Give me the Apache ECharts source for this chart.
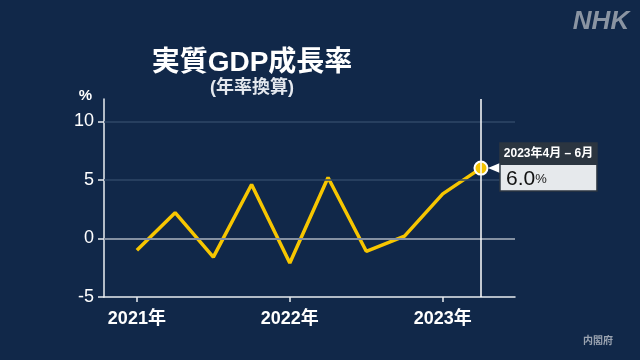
<!DOCTYPE html>
<html>
<head>
<meta charset="utf-8">
<script src="https://cdn.jsdelivr.net/npm/echarts@6/dist/echarts.min.js"></script>
<style>
html,body{margin:0;padding:0;background:#112849;}
#c{width:640px;height:360px;}
</style>
</head>
<body>
<div id="c"></div>
<script>
const quarters = ['2021Q1','2021Q2','2021Q3','2021Q4','2022Q1','2022Q2','2022Q3','2022Q4','2023Q1','2023Q2'];
const growth = [-1.0, 2.2, -1.6, 4.6, -2.1, 5.2, -1.1, 0.2, 3.8, 6.0];
const yearLabels = ['2021年','2022年','2023年'];
const yearStartIdx = [0, 4, 8];
const yTicks = [-5, 0, 5, 10];
const lastPeriodLabel = '2023年4月 – 6月';
const titleText = '実質GDP成長率';
const subtitleText = '(年率換算)';
const sourceText = '内閣府';

const FONT = '"Liberation Sans", "Noto Sans CJK JP", sans-serif';
const lastIdx = growth.length - 1;

const lineData = growth.map((v, i) => {
  if (i === lastIdx) {
    return {value: [i, v], symbol: 'circle', symbolSize: 13,
      itemStyle: {color: '#f5c400', borderColor: '#ffffff', borderWidth: 2}};
  }
  return {value: [i, v], symbol: 'none'};
});

const chart = echarts.init(document.getElementById('c'), null, {renderer: 'canvas'});
chart.setOption({
  backgroundColor: '#112849',
  animation: false,
  grid: {left: 104, right: 125, top: 99, bottom: 63},
  title: [
    {text: titleText, left: 247, top: 44, textAlign: 'center',
      textStyle: {color: '#ffffff', fontSize: 28, fontWeight: 'bold', fontFamily: FONT}},
    {text: subtitleText, left: 247, top: 74, textAlign: 'center',
      textStyle: {color: '#e4e8ee', fontSize: 18, fontWeight: 'bold', fontFamily: FONT}},
    {text: 'NHK', left: 596, top: 4, textAlign: 'center',
      textStyle: {color: '#8a94a2', fontSize: 26, fontWeight: 'bold', fontStyle: 'italic', fontFamily: FONT, letterSpacing: 3}},
    {text: sourceText, left: 593, top: 331, textAlign: 'center',
      textStyle: {color: '#9aa3b0', fontSize: 10, fontWeight: 'bold', fontFamily: FONT}}
  ],
  xAxis: {
    type: 'value', min: -0.86, max: 9.89,
    splitLine: {show: false},
    axisLine: {show: true, onZero: false, lineStyle: {color: '#e8ecf0', width: 1.5}},
    axisTick: {show: true, customValues: yearStartIdx, length: 5, lineStyle: {color: '#e8ecf0', width: 1.5}},
    axisLabel: {show: true, customValues: yearStartIdx, margin: 13,
      formatter: v => yearLabels[yearStartIdx.indexOf(Math.round(v))] || '',
      color: '#ffffff', fontSize: 18, fontWeight: 'bold', fontFamily: FONT}
  },
  yAxis: {
    type: 'value', min: -5, max: 11.9,
    name: '%', nameLocation: 'end', nameGap: -4,
    nameTextStyle: {color: '#ffffff', fontSize: 15, fontWeight: 'bold', fontFamily: FONT, align: 'right', padding: [0, 12, 0, 0]},
    splitLine: {show: false},
    axisLine: {show: true, onZero: false, lineStyle: {color: '#e8ecf0', width: 1.5}},
    axisTick: {show: true, customValues: yTicks, length: 6, lineStyle: {color: '#e8ecf0', width: 1.5}},
    axisLabel: {show: true, customValues: yTicks, margin: 10,
      color: '#ffffff', fontSize: 18, fontFamily: FONT}
  },
  series: [
    {
      type: 'line', data: [], z: 1, silent: true,
      markLine: {
        silent: true, symbol: 'none', label: {show: false}, animation: false,
        data: [
          {yAxis: 10, lineStyle: {color: '#2f4767', width: 1.5, type: 'solid'}},
          {yAxis: 5, lineStyle: {color: '#2f4767', width: 1.5, type: 'solid'}},
          {yAxis: 0, lineStyle: {color: '#8591a2', width: 2, type: 'solid'}},
          {xAxis: lastIdx, lineStyle: {color: '#ffffff', width: 1.5, type: 'solid'}}
        ]
      }
    },
    {
      type: 'line', data: lineData, z: 3,
      lineStyle: {color: '#f7c600', width: 3.5},
      itemStyle: {color: '#f7c600'},
      showSymbol: true
    }
  ]
});

const p = chart.convertToPixel({seriesIndex: 1}, [lastIdx, growth[lastIdx]]);
const bx = p[0] + 19, by = p[1] - 25;
chart.setOption({
  graphic: [
    {type: 'polygon', z: 10, shape: {points: [[p[0] + 7, p[1]], [bx, p[1] - 5], [bx, p[1] + 5]]},
      style: {fill: '#ffffff'}},
    {type: 'rect', z: 10, shape: {x: bx, y: by, width: 97, height: 48},
      style: {fill: '#e6e9ec', stroke: '#2b3540', lineWidth: 1.5}},
    {type: 'rect', z: 11, shape: {x: bx, y: by, width: 97, height: 22},
      style: {fill: '#2b3540'}},
    {type: 'text', z: 12, x: bx + 48.5, y: by + 11,
      style: {text: lastPeriodLabel, fill: '#ffffff', font: 'bold 12px ' + FONT, align: 'center', verticalAlign: 'middle'}},
    {type: 'text', z: 12, x: bx + 6, y: by + 36,
      style: {rich: {a: {fontSize: 21, fontFamily: FONT, fill: '#111111'}, b: {fontSize: 13, fontFamily: FONT, fill: '#222222'}},
        text: '{a|' + growth[lastIdx].toFixed(1) + '}{b|%}', verticalAlign: 'middle', align: 'left'}}
  ]
});
</script>
</body>
</html>
